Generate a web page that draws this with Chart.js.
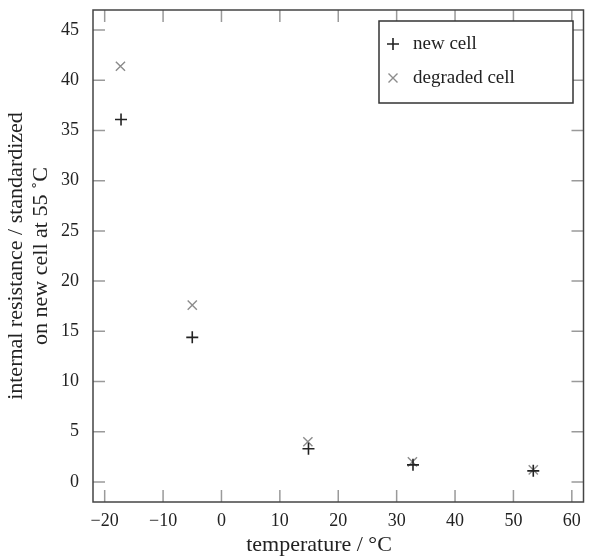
<!DOCTYPE html>
<html lang="en">
<head>
  <meta charset="UTF-8">
  <title>Internal resistance vs temperature</title>
  <script src="https://cdn.jsdelivr.net/npm/chart.js"></script>
  <style>
    body { margin: 0; background: #fff; }
    #wrap { width: 596px; height: 556px; }
  </style>
</head>
<body>
  <div id="wrap"><canvas id="irChart" width="596" height="556"></canvas></div>

  <script>
    // values
    const newCellTemp = [-17.2, -5, 14.9, 32.8, 53.4];
    const newCellRes = [36.1, 14.4, 3.3, 1.7, 1.1];
    const degradedTemp = [-17.3, -5, 14.8, 32.7, 53.4];
    const degradedRes = [41.4, 17.6, 4.0, 2.0, 1.2];

    const xTicks = [-20, -10, 0, 10, 20, 30, 40, 50, 60];
    const yTicks = [0, 5, 10, 15, 20, 25, 30, 35, 40, 45];

    const serif = "'Liberation Serif', 'DejaVu Serif', serif";

    function pairs(xs, ys) {
      return xs.map((x, i) => ({ x: x, y: ys[i] }));
    }

    // frame, inward ticks on all four sides, axis titles and boxed legend
    const framePlugin = {
      id: 'frame',
      afterDraw(chart) {
        const ctx = chart.ctx;
        const a = chart.chartArea;
        const xs = chart.scales.x, ys = chart.scales.y;
        ctx.save();

        // tick marks
        ctx.strokeStyle = '#9a9a9a';
        ctx.lineWidth = 1.5;
        ctx.beginPath();
        xTicks.forEach(v => {
          const px = xs.getPixelForValue(v);
          ctx.moveTo(px, a.bottom); ctx.lineTo(px, a.bottom - 12);
          ctx.moveTo(px, a.top); ctx.lineTo(px, a.top + 12);
        });
        yTicks.forEach(v => {
          const py = ys.getPixelForValue(v);
          ctx.moveTo(a.left, py); ctx.lineTo(a.left + 12, py);
          ctx.moveTo(a.right, py); ctx.lineTo(a.right - 12, py);
        });
        ctx.stroke();

        // box
        ctx.strokeStyle = '#444';
        ctx.lineWidth = 1.5;
        ctx.strokeRect(a.left, a.top, a.right - a.left, a.bottom - a.top);

        // axis titles
        ctx.fillStyle = '#222';
        ctx.font = '22px ' + serif;
        ctx.textAlign = 'center';
        ctx.textBaseline = 'alphabetic';
        ctx.fillText('temperature / \u00B0C', 319, 551);

        ctx.save();
        ctx.translate(0, (a.top + a.bottom) / 2);
        ctx.rotate(-Math.PI / 2);
        ctx.fillText('internal resistance / standardized', 0, 22);
        ctx.fillText('on new cell at 55 \u02DAC', 0, 47);
        ctx.restore();

        // legend
        const lx = 379, ly = 21, lw = 194, lh = 82;
        ctx.fillStyle = '#fff';
        ctx.fillRect(lx, ly, lw, lh);
        ctx.strokeStyle = '#333';
        ctx.lineWidth = 1.5;
        ctx.strokeRect(lx, ly, lw, lh);

        ctx.font = '19px ' + serif;
        ctx.textAlign = 'left';
        ctx.textBaseline = 'middle';
        chart.data.datasets.forEach((ds, i) => {
          const cy = ly + 23 + i * 34;
          const cx = 393;
          ctx.strokeStyle = ds.borderColor;
          ctx.lineWidth = ds.borderWidth;
          ctx.beginPath();
          if (ds.pointStyle === 'cross') {
            ctx.moveTo(cx - 6, cy); ctx.lineTo(cx + 6, cy);
            ctx.moveTo(cx, cy - 6); ctx.lineTo(cx, cy + 6);
          } else {
            ctx.moveTo(cx - 4.5, cy - 4.5); ctx.lineTo(cx + 4.5, cy + 4.5);
            ctx.moveTo(cx - 4.5, cy + 4.5); ctx.lineTo(cx + 4.5, cy - 4.5);
          }
          ctx.stroke();
          ctx.fillStyle = '#222';
          ctx.fillText(ds.label, 413, cy);
        });

        ctx.restore();
      }
    };

    new Chart(document.getElementById('irChart'), {
      type: 'scatter',
      data: {
        datasets: [
          {
            label: 'new cell',
            data: pairs(newCellTemp, newCellRes),
            pointStyle: 'cross',
            pointRadius: 6,
            borderColor: '#222',
            borderWidth: 1.6
          },
          {
            label: 'degraded cell',
            data: pairs(degradedTemp, degradedRes),
            pointStyle: 'crossRot',
            pointRadius: 6.5,
            borderColor: '#8c8c8c',
            borderWidth: 1.4
          }
        ]
      },
      options: {
        responsive: false,
        animation: false,
        layout: { padding: { top: 10, right: 12.5, left: 0, bottom: 0 } },
        plugins: {
          legend: { display: false },
          tooltip: { enabled: false }
        },
        scales: {
          x: {
            type: 'linear',
            min: -22,
            max: 62,
            afterBuildTicks: s => { s.ticks = xTicks.map(v => ({ value: v })); },
            afterFit: s => { s.height = 54; s.paddingLeft = 0; s.paddingRight = 0; },
            grid: { display: false, drawTicks: false },
            border: { display: false },
            ticks: {
              padding: 8,
              color: '#222',
              font: { family: serif, size: 18 },
              callback: v => String(v).replace('-', '\u2212')
            }
          },
          y: {
            type: 'linear',
            min: -2,
            max: 47,
            afterBuildTicks: s => { s.ticks = yTicks.map(v => ({ value: v })); },
            afterFit: s => { s.width = 93; s.paddingTop = 0; s.paddingBottom = 0; },
            grid: { display: false, drawTicks: false },
            border: { display: false },
            ticks: {
              padding: 14,
              color: '#222',
              font: { family: serif, size: 18 }
            }
          }
        }
      },
      plugins: [framePlugin]
    });
  </script>
</body>
</html>
